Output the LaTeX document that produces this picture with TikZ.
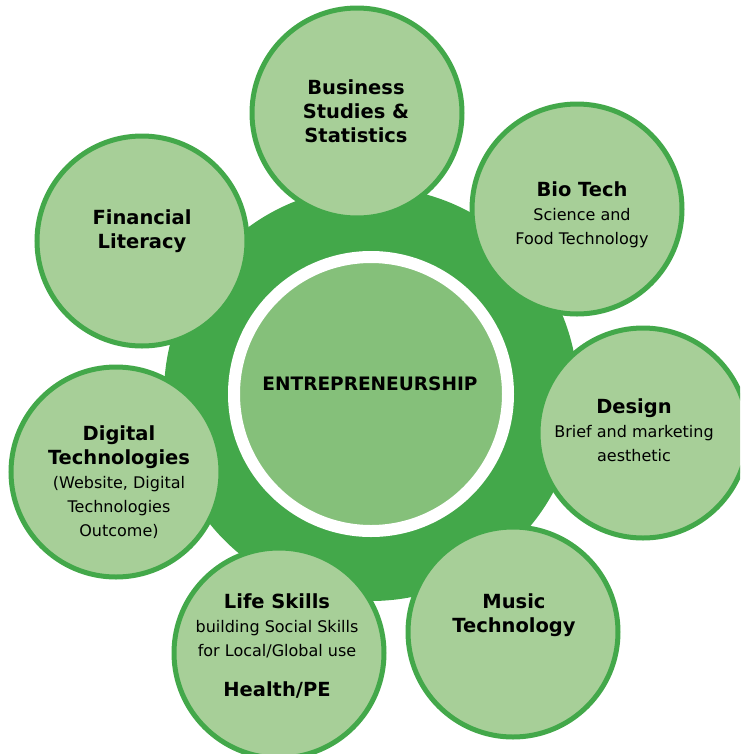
\documentclass[tikz,border=0pt]{standalone}
\usepackage{fontspec}
\setmainfont{DejaVu Sans}
\usetikzlibrary{positioning}
\definecolor{hubgreen}{RGB}{67,168,74}
\definecolor{bubblefill}{RGB}{167,207,152}
\definecolor{corefill}{RGB}{133,192,122}
\tikzstyle{bubble}=[draw=hubgreen,fill=bubblefill,circle,line width=3.75pt,minimum size=157.5pt,inner sep=0pt]
\tikzstyle{txt}=[align=center,inner sep=0pt,text=black,font=\fontsize{12}{18}\selectfont]
\newcommand{\hd}[1]{{\fontsize{14.6}{18.75}\selectfont\bfseries #1}}

\begin{document}
\begin{tikzpicture}[x=0.75pt,y=-0.75pt]
\useasboundingbox (0,0) rectangle (740,754);
\clip (0,0) rectangle (740,754);
% hub and centre
\node [circle,fill=hubgreen,minimum size=310.5pt,inner sep=0pt] (hub) at (371,394) {};
\node [circle,fill=corefill,draw=white,line width=9pt,minimum size=205.5pt,inner sep=0pt] (core) at (371,394) {};
\node [txt] (core-t) at (370,384) {\fontsize{13.9}{18}\selectfont\bfseries ENTREPRENEURSHIP};
% subjects round the hub
\node [bubble] (busi) at (357,113) {};
\node [bubble] (bio) at (577,209) {};
\node [bubble] (design) at (643,433) {};
\node [bubble] (music) at (513,632) {};
\node [bubble] (life) at (279,653) {};
\node [bubble] (digi) at (116,472) {};
\node [bubble] (fin) at (142,241) {};
\node [txt] (busi-t) at (356,111) {\hd{Business}\\\hd{Studies \&}\\\hd{Statistics}};
\node [txt] (bio-t) at (582,215) {\hd{Bio Tech}\\Science and\\Food Technology};
\node [txt] (design-t) at (634,430) {\hd{Design}\\Brief and marketing\\aesthetic};
\node [txt] (music-t) at (514,615) {\hd{Music}\\\hd{Technology}};
\node [txt] (life-t) at (277,646) {\hd{Life Skills}\\building Social Skills\\for Local/Global use\\[12pt]\hd{Health/PE}};
\node [txt] (digi-t) at (119,482) {\hd{Digital}\\\hd{Technologies}\\(Website, Digital\\Technologies\\Outcome)};
\node [txt] (fin-t) at (142,231) {\hd{Financial}\\\hd{Literacy}};
\end{tikzpicture}
\end{document}
